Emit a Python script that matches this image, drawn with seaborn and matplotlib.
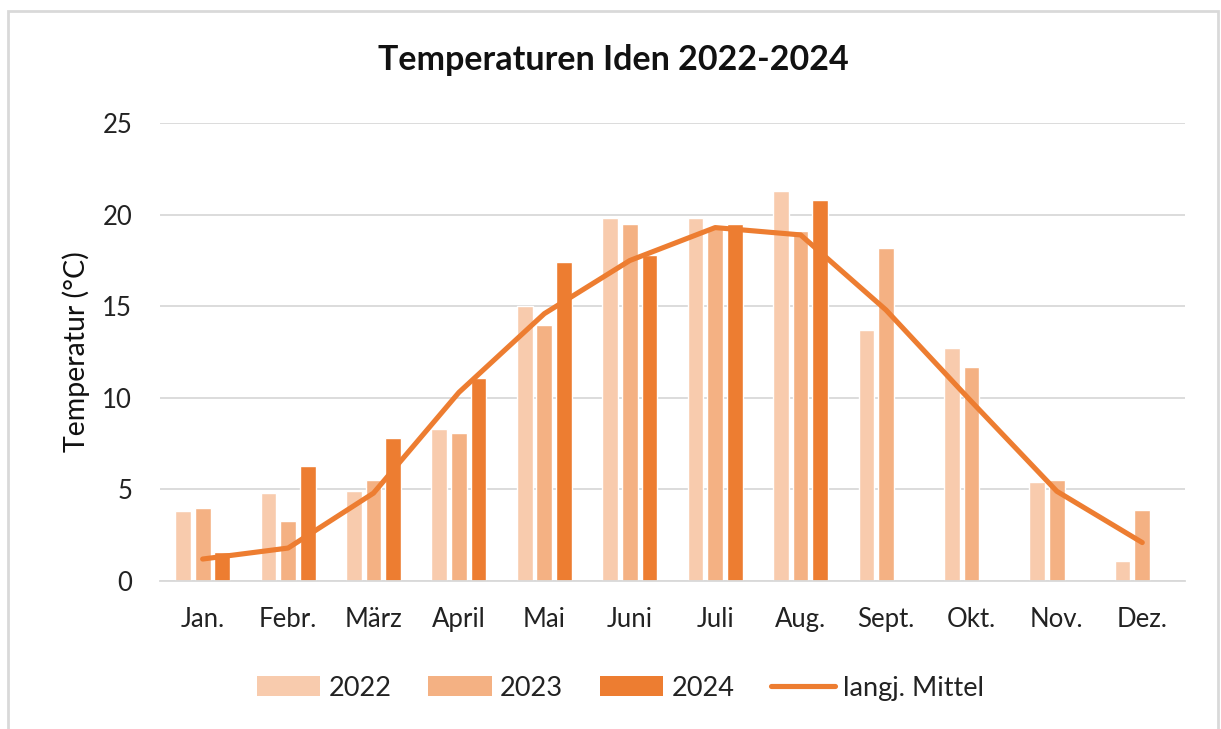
import numpy as np
import pandas as pd
import matplotlib
matplotlib.use("Agg")
import matplotlib.pyplot as plt
import seaborn as sns
from matplotlib.patches import Patch, Rectangle
from matplotlib.lines import Line2D

months = ["Jan.", "Febr.", "März", "April", "Mai", "Juni", "Juli", "Aug.", "Sept.", "Okt.", "Nov.", "Dez."]
years = ["2022", "2023", "2024"]
t2022 = [3.8, 4.8, 4.9, 8.3, 15.0, 19.8, 19.8, 21.3, 13.7, 12.7, 5.4, 1.1]
t2023 = [4.0, 3.3, 5.5, 8.1, 14.0, 19.5, 19.3, 19.1, 18.2, 11.7, 5.5, 3.9]
t2024 = [1.6, 6.3, 7.8, 11.1, 17.4, 17.8, 19.5, 20.8, np.nan, np.nan, np.nan, np.nan]
mittel = [1.2, 1.8, 4.8, 10.3, 14.6, 17.5, 19.3, 18.9, 14.8, 9.8, 4.9, 2.1]
yticks = [0, 5, 10, 15, 20, 25]

colors = {"2022": "#F8CBAD", "2023": "#F4B183", "2024": "#ED7D31"}
line_color = "#ED7D31"

df = pd.DataFrame({
    "Monat": months * 3,
    "Jahr": [y for y in years for _ in months],
    "Temp": t2022 + t2023 + t2024,
})

sns.set_theme(style="white")
plt.rcParams["font.family"] = ["Lato", "DejaVu Sans"]

fig = plt.figure(figsize=(12.21, 7.29), dpi=100)
ax = fig.add_axes([0.131, 0.203, 0.8395, 0.628])

sns.barplot(data=df, x="Monat", y="Temp", hue="Jahr", order=months, hue_order=years,
            palette=colors, width=0.69, gap=0.2, saturation=1, ax=ax, legend=False,
            errorbar=None)
sns.lineplot(x=np.arange(len(months)), y=mittel, color=line_color, linewidth=3.7,
             ax=ax, solid_capstyle="round", solid_joinstyle="round", zorder=5)

ax.set_xlim(-0.5, len(months) - 0.5)
ax.set_ylim(0, 25)
ax.set_yticks(yticks)
ax.set_yticklabels([str(v) for v in yticks])
ax.grid(axis="y", color="#D9D9D9", linewidth=1.3)
ax.set_axisbelow(True)
for s in ["top", "right", "left"]:
    ax.spines[s].set_visible(False)
ax.spines["bottom"].set_color("#D9D9D9")
ax.spines["bottom"].set_linewidth(1.3)
ax.tick_params(axis="both", length=0, labelsize=18.5, colors="#222222")
ax.tick_params(axis="y", pad=20)
ax.tick_params(axis="x", pad=19)
ax.set_xlabel("")
ax.set_ylabel("Temperatur (°C)", fontsize=20.5, color="#111111", labelpad=9)

fig.text(0.502, 0.918, "Temperaturen Iden 2022-2024", ha="center", va="center",
         fontsize=24.5, fontweight="bold", color="#111111")

handles = [Patch(facecolor=colors[y], edgecolor="none", label=y) for y in years]
handles.append(Line2D([0], [0], color=line_color, linewidth=3.7, solid_capstyle="round",
                      label="langj. Mittel"))
fig.legend(handles=handles, loc="center", bbox_to_anchor=(0.508, 0.056), ncol=4,
           frameon=False, fontsize=19.5, handlelength=2.35, handleheight=0.75,
           columnspacing=1.35, handletextpad=0.3, labelcolor="#222222")

fig.patches.append(Rectangle((8 / 1221, -0.05), (1218 - 8) / 1221, 1.05 - 11 / 729,
                             transform=fig.transFigure, fill=False,
                             edgecolor="#D9D9D9", linewidth=2.0))

fig.savefig("out.png", dpi=100, facecolor="white")
